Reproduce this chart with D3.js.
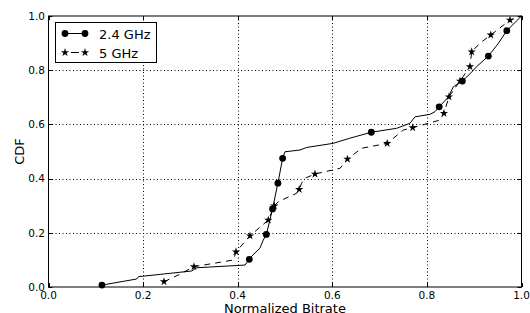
<!DOCTYPE html>
<html><head><meta charset="utf-8">
<script src="https://cdn.jsdelivr.net/npm/d3@7"></script>
<style>body{margin:0;background:#fff}svg{display:block;font-family:"DejaVu Sans",sans-serif}</style>
</head><body><svg id="c" width="530" height="313"></svg>
<script>
// ---- data ----
const seriesNames = ["2.4 GHz", "5 GHz"];
const xTicks = [0, 0.2, 0.4, 0.6, 0.8, 1.0];
const yTicks = [0, 0.2, 0.4, 0.6, 0.8, 1.0];

const bitrate24 = [0.113,0.1865,0.190,0.3027,0.313,0.405,0.4154,0.4245,0.432,0.447,0.454,0.4605,0.468,0.4736,0.485,0.495,0.500,0.5317,0.546,0.6015,0.637,0.6825,0.736,0.764,0.775,0.8065,0.8171,0.826,0.845,0.856,0.875,0.893,0.905,0.930,0.951,0.969,1.0];
const cdf24     = [0.007,0.0295,0.038,0.059,0.071,0.080,0.081,0.102,0.118,0.143,0.173,0.194,0.247,0.288,0.383,0.475,0.499,0.5055,0.515,0.530,0.549,0.571,0.5856,0.604,0.628,0.637,0.647,0.665,0.700,0.739,0.760,0.790,0.813,0.852,0.899,0.946,1.0];
const marker24X = [0.113,0.4245,0.4605,0.4736,0.485,0.495,0.6825,0.826,0.875,0.930,0.969];
const marker24Y = [0.007,0.102,0.194,0.288,0.383,0.475,0.571,0.665,0.760,0.852,0.946];

const bitrate5 = [0.2442,0.274,0.3076,0.3907,0.3964,0.426,0.4647,0.4774,0.4858,0.5247,0.530,0.535,0.542,0.5634,0.6163,0.632,0.662,0.716,0.750,0.770,0.8277,0.836,0.8467,0.870,0.891,0.8947,0.9123,0.935,0.9757,1.0];
const cdf5     = [0.0196,0.044,0.075,0.0996,0.130,0.189,0.247,0.299,0.315,0.346,0.360,0.383,0.401,0.417,0.438,0.472,0.512,0.530,0.579,0.588,0.616,0.641,0.702,0.760,0.813,0.868,0.900,0.930,0.985,1.0];
const marker5X = [0.2442,0.3076,0.3964,0.426,0.4647,0.4774,0.530,0.5634,0.632,0.716,0.770,0.836,0.8467,0.870,0.891,0.8947,0.935,0.9757];
const marker5Y = [0.0196,0.075,0.130,0.189,0.247,0.299,0.360,0.417,0.472,0.530,0.588,0.641,0.702,0.760,0.813,0.868,0.930,0.985];

// ---- layout ----
const L = 48.5, R = 521.5, T = 16, B = 287;
const svg = d3.select("#c");
const x = d3.scaleLinear().domain([0, 1]).range([L, R]);
const y = d3.scaleLinear().domain([0, 1]).range([B, T]);

// grid
const grid = svg.append("g").attr("stroke", "#000").attr("stroke-width", 1).attr("stroke-dasharray", "1,2.5");
xTicks.slice(1, -1).forEach(t => grid.append("line").attr("x1", Math.round(x(t)) + 0.5).attr("x2", Math.round(x(t)) + 0.5).attr("y1", T).attr("y2", B));
yTicks.slice(1, -1).forEach(t => grid.append("line").attr("y1", Math.round(y(t)) + 0.5).attr("y2", Math.round(y(t)) + 0.5).attr("x1", L).attr("x2", R));

const line = d3.line().x(d => x(d[0])).y(d => y(d[1]));
const pts5 = bitrate5.map((v, i) => [v, cdf5[i]]);
const pts24 = bitrate24.map((v, i) => [v, cdf24[i]]);

function starPath(r) {
  const ri = r * 0.382, p = [];
  for (let i = 0; i < 10; i++) {
    const a = -Math.PI / 2 + i * Math.PI / 5, rr = i % 2 ? ri : r;
    p.push([rr * Math.cos(a), rr * Math.sin(a)]);
  }
  return "M" + p.map(q => q.join(",")).join("L") + "Z";
}

// 5 GHz
svg.append("path").attr("d", line(pts5)).attr("fill", "none").attr("stroke", "#000").attr("stroke-width", 1).attr("stroke-dasharray", "6,5");
svg.append("g").selectAll("path").data(marker5X.map((v, i) => [v, marker5Y[i]])).join("path")
  .attr("d", starPath(4.4)).attr("transform", d => `translate(${x(d[0])},${y(d[1])})`).attr("fill", "#000");

// 2.4 GHz
svg.append("path").attr("d", line(pts24)).attr("fill", "none").attr("stroke", "#000").attr("stroke-width", 1);
svg.append("g").selectAll("circle").data(marker24X.map((v, i) => [v, marker24Y[i]])).join("circle")
  .attr("cx", d => x(d[0])).attr("cy", d => y(d[1])).attr("r", 3.4).attr("fill", "#000");

// frame
svg.append("rect").attr("x", L).attr("y", T).attr("width", R - L).attr("height", B - T).attr("fill", "none").attr("stroke", "#000").attr("stroke-width", 1);

// ticks (inward, all sides)
const tk = svg.append("g").attr("stroke", "#000").attr("stroke-width", 1);
xTicks.forEach(t => {
  const px = Math.round(x(t)) + 0.5;
  tk.append("line").attr("x1", px).attr("x2", px).attr("y1", B).attr("y2", B - 4);
  tk.append("line").attr("x1", px).attr("x2", px).attr("y1", T).attr("y2", T + 4);
});
yTicks.forEach(t => {
  const py = Math.round(y(t)) + 0.5;
  tk.append("line").attr("y1", py).attr("y2", py).attr("x1", L).attr("x2", L + 4);
  tk.append("line").attr("y1", py).attr("y2", py).attr("x1", R).attr("x2", R - 4);
});

// tick labels
const fmt = d3.format(".1f");
svg.append("g").selectAll("text").data(xTicks).join("text")
  .attr("x", d => x(d)).attr("y", 298.5).attr("text-anchor", "middle").attr("font-size", 10.5).text(fmt);
svg.append("g").selectAll("text").data(yTicks).join("text")
  .attr("x", 45).attr("y", d => y(d) + 3.8).attr("text-anchor", "end").attr("font-size", 10.5).text(fmt);

// axis labels
svg.append("text").attr("x", (L + R) / 2).attr("y", 312.5).attr("text-anchor", "middle").attr("font-size", 13).text("Normalized Bitrate");
svg.append("text").attr("transform", `translate(24,${(T + B) / 2}) rotate(-90)`).attr("text-anchor", "middle").attr("font-size", 13).text("CDF");

// legend
const lg = svg.append("g");
lg.append("rect").attr("x", 55.5).attr("y", 22.5).attr("width", 101).attr("height", 40).attr("fill", "#fff").attr("stroke", "#000").attr("stroke-width", 1);
lg.append("line").attr("x1", 65).attr("x2", 85).attr("y1", 33.5).attr("y2", 33.5).attr("stroke", "#000");
[65, 85].forEach(cx => lg.append("circle").attr("cx", cx).attr("cy", 33.5).attr("r", 3.4).attr("fill", "#000"));
lg.append("line").attr("x1", 65).attr("x2", 85).attr("y1", 52.5).attr("y2", 52.5).attr("stroke", "#000").attr("stroke-dasharray", "0,6,8,6");
[65, 85].forEach(cx => lg.append("path").attr("d", starPath(4.4)).attr("transform", `translate(${cx},52.5)`).attr("fill", "#000"));
lg.append("text").attr("x", 99).attr("y", 38.5).attr("font-size", 13).text(seriesNames[0]);
lg.append("text").attr("x", 99).attr("y", 57.5).attr("font-size", 13).text(seriesNames[1]);
</script></body></html>
